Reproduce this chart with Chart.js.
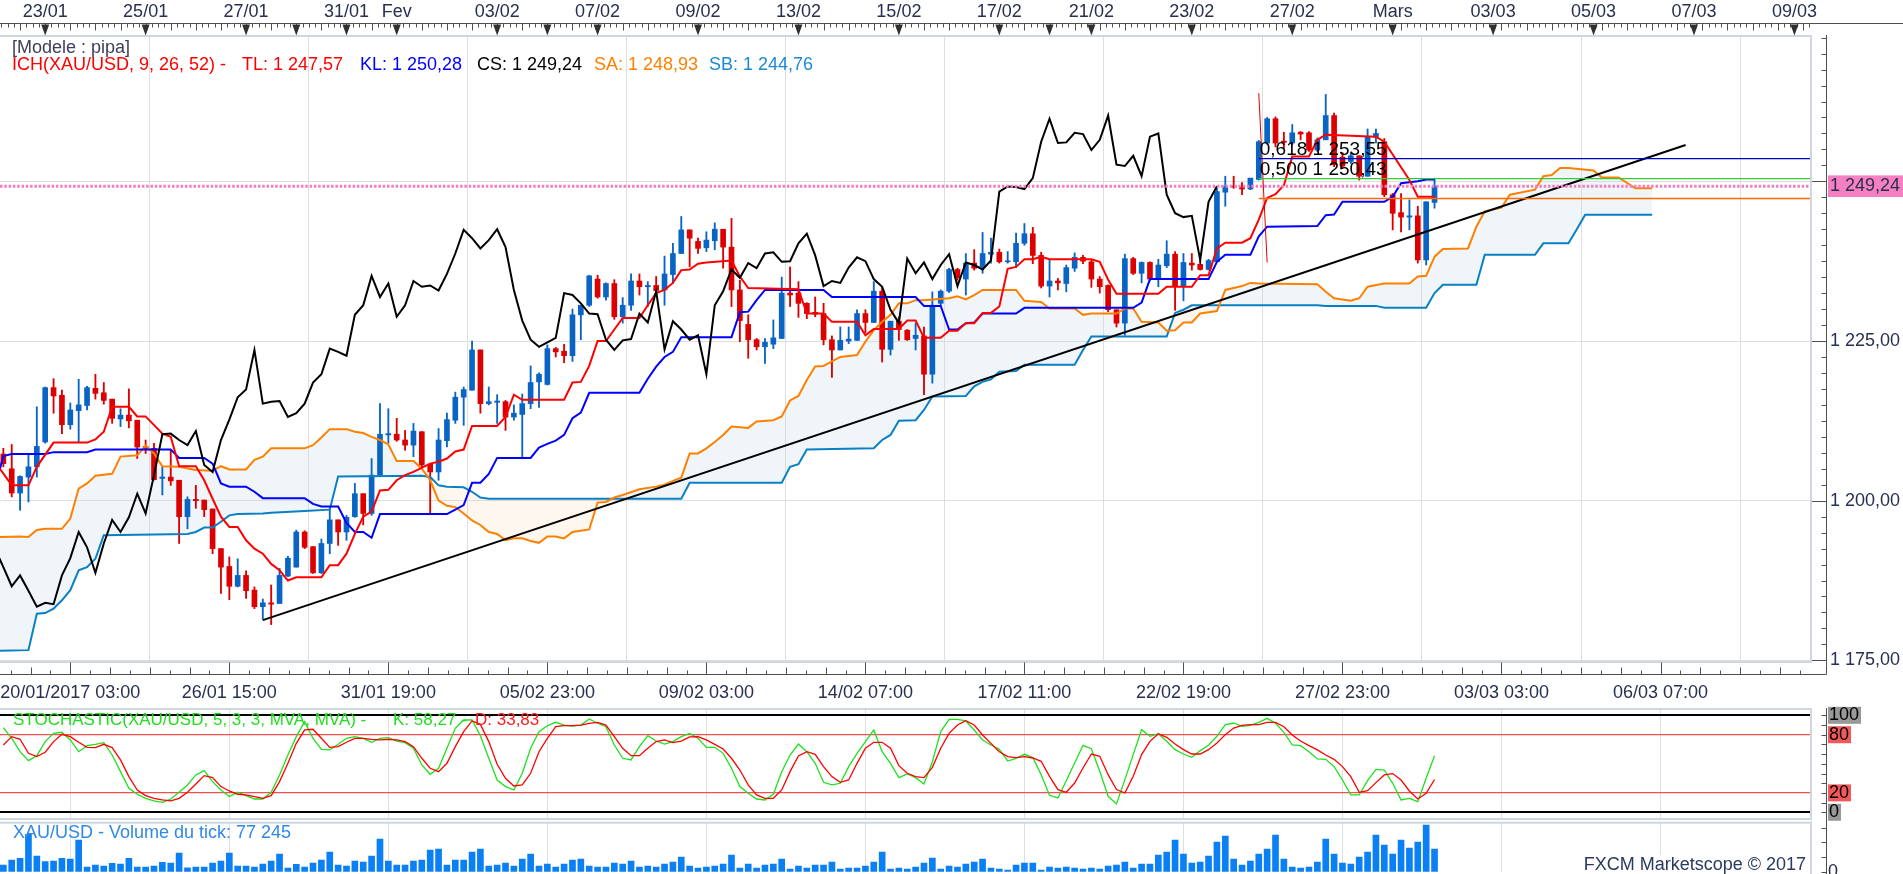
<!DOCTYPE html>
<html lang="fr">
<head>
<meta charset="UTF-8">
<title>XAU/USD - Ichimoku</title>
<script src="https://cdn.jsdelivr.net/npm/chart.js"></script>
<style>
  body { margin: 0; background: #fff; overflow: hidden; font-family: 'Liberation Sans', Arial, sans-serif; }
  #page { position: relative; width: 1903px; height: 874px; }
  .box { position: absolute; left: 0; width: 1903px; }
  .txt { position: absolute; font-size: 17px; line-height: 17px; white-space: pre; }
  .ich { font-size: 18px; }
</style>
</head>
<body>
<div id="page">
  <div class="box" style="top:0;height:705px"><canvas id="main"></canvas></div>
  <div class="box" style="top:705px;height:116px"><canvas id="stoch"></canvas></div>
  <div class="box" style="top:821px;height:53px"><canvas id="vol"></canvas></div>

  <div class="txt ich" style="left:12px;top:39px;color:#3d405a">[Modele : pipa]</div>
  <div class="txt ich" style="left:12px;top:56px;color:#ff0000">ICH(XAU/USD, 9, 26, 52) -</div>
  <div class="txt ich" style="left:242px;top:56px;color:#ff0000">TL: 1 247,57</div>
  <div class="txt ich" style="left:360px;top:56px;color:#0000ff">KL: 1 250,28</div>
  <div class="txt ich" style="left:477px;top:56px;color:#000000">CS: 1 249,24</div>
  <div class="txt ich" style="left:594px;top:56px;color:#ff8000">SA: 1 248,93</div>
  <div class="txt ich" style="left:709px;top:56px;color:#1b8ad0">SB: 1 244,76</div>

  <div class="txt" style="left:13px;top:711px;color:#22dd22">STOCHASTIC(XAU/USD, 5, 3, 3, MVA, MVA) -</div>
  <div class="txt" style="left:393px;top:711px;color:#22dd22">K: 58,27 -</div>
  <div class="txt" style="left:475px;top:711px;color:#ff1a1a">D: 33,83</div>

  <div class="txt" style="left:13px;top:824px;font-size:18px;color:#3089e6">XAU/USD - Volume du tick: 77 245</div>
  <div class="txt" style="right:95px;top:855px;font-size:18px;line-height:18px;color:#283a5e;background:#fff;padding:0 2px">FXCM Marketscope © 2017</div>
</div>

<script>
// ---- axes ----
const X_MIN = -0.4, X_MAX = 216.1;
const gridIdx = [8, 27, 46, 65, 84, 103, 122, 141, 160, 179, 198];
const bottomLabels = ['20/01/2017 03:00', '26/01 15:00', '31/01 19:00', '05/02 23:00', '09/02 03:00',
  '14/02 07:00', '17/02 11:00', '22/02 19:00', '27/02 23:00', '03/03 03:00', '06/03 07:00'];
const topIdx = [5, 17, 29, 41, 47, 59, 71, 83, 95, 107, 119, 130, 142, 154, 166, 178, 190, 202, 214];
const topLabels = ['23/01', '25/01', '27/01', '31/01', 'Fev', '03/02', '07/02', '09/02', '13/02', '15/02',
  '17/02', '21/02', '23/02', '27/02', 'Mars', '03/03', '05/03', '07/03', '09/03'];
const weekMarks = [35, 65, 125];
const priceLabels = [1175, 1200, 1225];
const lastPrice = 1249.24;
const stochLabels = [0, 20, 80, 100];
const volLabels = [0];

// ---- 4h candles, XAU/USD ----
const opens = [1207.3,1205.0,1201.2,1203.7,1205.3,1209.2,1217.7,1216.5,1211.9,1214.1,
  1214.9,1217.6,1216.9,1215.9,1212.8,1213.4,1212.6,1208.5,1208.2,1203.5,
  1203.7,1203.2,1197.5,1200.2,1200.1,1198.7,1192.5,1189.7,1186.6,1188.3,
  1186.0,1183.4,1184.0,1183.9,1188.2,1189.6,1195.1,1192.8,1188.7,1193.3,
  1197.0,1195.1,1197.5,1201.1,1198.0,1204.0,1210.3,1210.4,1209.5,1208.7,
  1210.8,1205.7,1204.5,1209.4,1212.6,1216.2,1217.3,1223.6,1215.2,1215.4,
  1215.5,1213.1,1213.5,1215.2,1218.6,1218.2,1223.8,1223.4,1222.7,1229.1,
  1230.6,1234.7,1231.9,1234.0,1228.8,1230.6,1234.4,1233.5,1233.7,1233.0,
  1235.4,1238.7,1242.4,1240.6,1239.6,1240.7,1242.5,1239.7,1233.0,1227.6,
  1225.2,1224.1,1224.5,1225.4,1232.5,1232.5,1230.9,1229.5,1229.3,1225.2,
  1223.6,1225.0,1225.1,1229.3,1227.9,1232.8,1223.7,1228.1,1226.7,1225.4,
  1225.8,1219.8,1230.9,1232.8,1236.2,1234.7,1237.2,1236.6,1238.6,1238.9,
  1237.4,1237.4,1240.3,1241.8,1238.4,1233.6,1234.4,1234.0,1236.4,1238.1,
  1237.4,1234.7,1233.7,1229.9,1227.8,1237.9,1235.6,1237.3,1234.7,1236.8,
  1238.6,1233.6,1237.2,1237.0,1236.2,1237.4,1248.3,1249.3,1249.1,1248.8,
  1250.3,1256.0,1259.8,1256.3,1256.0,1257.7,1257.6,1254.9,1256.5,1260.3,
  1253.8,1253.1,1254.0,1250.8,1256.9,1256.2,1247.9,1245.1,1244.4,1244.6,
  1237.7,1246.7];
const highs = [1208.2,1208.8,1203.9,1207.1,1214.7,1217.8,1219.1,1217.3,1215.3,1219.0,
  1217.9,1219.8,1218.5,1215.9,1214.4,1217.5,1212.6,1209.5,1209.0,1205.3,
  1207.9,1203.2,1200.6,1202.4,1200.1,1198.7,1192.5,1191.2,1190.9,1189.0,
  1186.5,1184.6,1186.8,1189.4,1191.3,1195.4,1195.3,1192.8,1194.0,1199.0,
  1197.0,1197.7,1202.7,1201.1,1206.6,1215.2,1214.4,1212.9,1211.0,1212.1,
  1210.8,1205.8,1211.3,1213.7,1217.0,1217.8,1225.0,1223.6,1217.8,1216.6,
  1215.7,1215.0,1216.7,1221.1,1220.0,1224.4,1224.0,1224.5,1230.0,1230.6,
  1235.3,1235.3,1234.1,1234.6,1231.8,1235.5,1235.5,1234.3,1235.1,1238.3,
  1240.3,1244.5,1242.4,1241.1,1242.1,1243.5,1242.5,1244.2,1234.5,1229.1,
  1225.4,1225.4,1228.3,1235.0,1236.6,1234.3,1231.0,1231.9,1230.9,1225.8,
  1227.2,1227.2,1229.9,1229.9,1234.3,1233.5,1228.1,1228.8,1226.8,1227.8,
  1227.2,1232.7,1233.0,1236.4,1236.4,1238.7,1239.3,1242.0,1241.1,1239.4,
  1239.0,1241.9,1243.4,1242.8,1238.9,1237.8,1234.8,1236.9,1238.8,1238.4,
  1237.7,1235.1,1233.8,1229.9,1238.6,1238.1,1237.4,1237.4,1237.8,1240.7,
  1239.0,1238.7,1238.7,1237.8,1237.8,1248.9,1250.8,1250.8,1249.8,1250.5,
  1256.4,1260.0,1260.1,1257.7,1258.9,1257.8,1257.8,1256.8,1263.6,1260.7,
  1254.5,1254.5,1254.0,1258.2,1258.2,1256.7,1248.1,1248.1,1247.1,1246.1,
  1246.8,1250.5];
const lows = [1205.3,1200.6,1198.5,1199.8,1203.7,1209.0,1213.7,1210.5,1211.2,1209.2,
  1214.2,1215.9,1215.1,1212.1,1211.6,1211.4,1206.6,1207.4,1203.2,1200.9,
  1202.4,1193.3,1195.6,1198.8,1197.5,1191.7,1185.5,1184.5,1186.5,1184.7,
  1183.1,1181.4,1180.6,1183.9,1188.1,1189.6,1192.5,1188.6,1188.6,1191.7,
  1193.0,1193.8,1197.4,1196.2,1197.7,1203.9,1209.0,1209.3,1207.9,1206.9,
  1205.3,1198.0,1203.2,1208.4,1212.1,1211.8,1217.3,1213.7,1215.0,1212.1,
  1211.0,1212.6,1206.9,1214.4,1214.6,1218.1,1222.5,1221.6,1221.8,1225.2,
  1230.4,1231.7,1231.4,1228.4,1227.8,1229.8,1232.2,1230.4,1232.2,1230.6,
  1234.0,1238.7,1236.6,1238.7,1239.0,1239.3,1236.4,1230.4,1224.9,1222.3,
  1223.6,1221.5,1223.8,1225.4,1230.4,1228.7,1228.5,1228.8,1224.4,1219.3,
  1223.6,1224.6,1225.1,1226.3,1227.9,1221.7,1222.8,1225.1,1225.1,1223.6,
  1216.6,1218.4,1230.6,1232.6,1234.5,1232.2,1236.1,1235.6,1237.2,1237.2,
  1237.2,1236.5,1240.0,1237.1,1233.3,1231.9,1233.0,1232.7,1235.9,1237.1,
  1233.4,1232.5,1229.6,1227.2,1225.9,1235.4,1234.1,1234.5,1233.5,1236.5,
  1229.8,1231.3,1236.1,1236.1,1236.1,1237.4,1246.1,1248.9,1247.9,1248.7,
  1250.2,1255.8,1255.4,1255.2,1255.7,1256.5,1254.7,1254.7,1256.5,1252.3,
  1252.0,1252.8,1250.2,1250.8,1256.0,1247.6,1242.4,1242.1,1242.4,1237.2,
  1236.9,1245.8];
const closes = [1205.8,1201.2,1203.8,1205.3,1208.5,1217.7,1216.4,1211.9,1214.2,1215.0,
  1217.7,1216.8,1215.7,1212.9,1213.4,1212.5,1208.4,1208.0,1203.3,1203.7,
  1203.1,1197.5,1200.2,1200.0,1198.6,1192.5,1189.6,1186.6,1188.3,1185.9,
  1183.4,1184.0,1183.8,1188.3,1191.0,1195.1,1192.7,1188.7,1193.3,1197.0,
  1195.1,1197.4,1201.1,1198.0,1204.0,1210.4,1210.5,1209.5,1208.7,1210.9,
  1205.6,1204.5,1209.5,1212.7,1216.2,1217.4,1223.6,1215.2,1215.5,1215.6,
  1213.1,1213.7,1215.2,1218.5,1219.8,1223.8,1223.3,1222.7,1229.1,1230.6,
  1235.2,1231.9,1234.0,1228.8,1230.6,1234.4,1233.5,1233.7,1232.9,1235.5,
  1238.7,1242.4,1241.1,1239.5,1240.8,1242.5,1239.7,1233.0,1228.2,1225.2,
  1224.1,1224.8,1225.5,1232.5,1232.2,1230.9,1229.3,1229.2,1225.2,1223.6,
  1225.1,1225.3,1229.3,1227.9,1232.8,1223.7,1228.1,1226.8,1225.2,1225.9,
  1219.8,1230.6,1232.8,1236.2,1234.9,1237.2,1236.4,1238.7,1238.9,1237.4,
  1237.5,1240.3,1241.8,1238.4,1233.6,1234.4,1234.1,1236.5,1238.1,1237.5,
  1234.7,1233.5,1229.9,1227.8,1237.9,1235.6,1237.3,1234.7,1236.9,1238.6,
  1233.6,1237.3,1236.9,1236.2,1237.6,1248.4,1249.2,1249.1,1248.8,1250.5,
  1256.2,1259.8,1256.0,1256.1,1257.6,1257.4,1254.9,1256.5,1260.3,1252.6,
  1252.4,1254.0,1250.8,1257.0,1257.5,1247.9,1245.0,1244.4,1244.6,1237.7,
  1246.8,1249.24];

// ---- Ichimoku (9, 26, 52): vertices [candle index, price] ----
const tenkan = [[-0.4,1205.0],[1,1202.4],[3,1202.4],[4,1205.3],[6,1209.1],[10,1209.1],[11,1209.6],[12,1210.8],[13,1214.7],[15,1214.7],
  [16,1213.2],[17,1213.2],[19,1210.5],[20,1210.0],[21,1205.4],[23,1205.4],[24,1203.2],[25,1200.3],[26,1197.5],[27,1195.9],
  [28,1195.9],[29,1193.8],[30,1192.5],[31,1191.7],[32,1190.1],[33,1189.1],[34,1187.5],[35,1188.0],[38,1188.0],[39,1189.9],
  [40,1189.9],[41,1191.7],[42,1194.8],[43,1197.5],[44,1198.3],[45,1201.6],[46,1201.7],[47,1203.2],[48,1204.0],[49,1204.5],
  [51,1205.8],[52,1206.1],[53,1206.6],[54,1207.7],[55,1208.0],[56,1211.7],[59,1211.7],[60,1213.1],[61,1216.6],[62,1215.8],
  [67,1215.8],[68,1218.5],[69,1218.6],[70,1221.1],[71,1225.0],[72,1225.0],[73,1226.8],[74,1228.6],[76,1228.6],[77,1230.6],
  [78,1232.5],[79,1233.0],[80,1234.1],[81,1236.1],[82,1236.2],[83,1237.1],[84,1237.3],[87,1237.6],[88,1235.1],[89,1233.3],
  [95,1233.1],[96,1229.3],[98,1229.3],[99,1228.0],[102,1228.0],[103,1225.9],[104,1226.9],[107,1226.9],[108,1228.2],[109,1228.2],
  [110,1225.5],[112,1225.5],[113,1226.6],[114,1226.6],[115,1227.8],[116,1227.8],[117,1229.4],[118,1229.4],[119,1230.4],[120,1236.3],
  [121,1236.6],[122,1237.8],[123,1237.8],[124,1238.2],[125,1237.8],[130,1237.8],[131,1237.4],[132,1234.6],[133,1232.4],[138,1232.4],
  [139,1233.5],[142,1233.5],[143,1235.3],[144,1235.3],[145,1239.5],[146,1240.4],[148,1240.4],[149,1241.1],[150,1244.0],[151,1247.4],
  [152,1248.0],[153,1249.4],[154,1253.9],[156,1253.9],[157,1256.5],[158,1257.3],[164,1257.0],[165,1256.2],[166,1254.2],[167,1252.2],
  [168,1250.2],[169,1247.6],[171,1247.57]];
const kijun = [[-0.4,1205.0],[0,1207.0],[1,1207.3],[5,1207.3],[6,1207.6],[10,1207.6],[11,1208.0],[20,1208.0],[21,1206.7],[24,1206.7],
  [25,1205.8],[26,1202.7],[27,1202.2],[29,1202.2],[30,1201.4],[31,1200.4],[36,1200.4],[37,1199.5],[38,1199.1],[40,1199.1],
  [41,1196.5],[42,1195.1],[43,1195.1],[44,1194.2],[45,1197.9],[53,1197.9],[54,1198.6],[55,1199.3],[56,1202.8],[57,1202.8],
  [58,1204.2],[59,1206.7],[63,1206.7],[64,1208.3],[65,1208.9],[66,1209.4],[67,1210.3],[68,1212.9],[69,1213.8],[70,1216.9],
  [76,1216.9],[77,1219.1],[78,1221.0],[79,1222.5],[80,1223.3],[81,1225.6],[87,1225.6],[88,1229.5],[89,1229.6],[90,1231.4],
  [91,1233.0],[98,1233.0],[99,1231.9],[109,1231.9],[110,1230.5],[112,1230.5],[113,1226.8],[114,1226.8],[115,1227.8],[116,1227.9],
  [117,1229.3],[121,1229.3],[122,1230.2],[135,1230.2],[136,1231.0],[137,1234.7],[144,1234.7],[145,1237.4],[146,1238.5],[149,1238.5],
  [150,1241.4],[151,1242.9],[157,1243.0],[158,1244.7],[159,1244.8],[160,1246.8],[165,1246.8],[166,1247.6],[167,1249.7],[169,1250.0],
  [170,1250.28],[171,1250.28]];
const senkouA = [[-0.4,1194.3],[2,1194.4],[3,1194.3],[4,1195.4],[5,1195.6],[7,1195.6],[8,1197.2],[9,1201.9],[10,1202.7],[11,1203.9],
  [13,1204.2],[14,1206.9],[16,1207.1],[17,1208.6],[18,1207.4],[19,1205.4],[21,1205.3],[23,1204.8],[25,1204.7],[26,1205.4],
  [27,1204.9],[29,1204.9],[30,1206.4],[31,1206.9],[32,1208.2],[36,1208.2],[37,1208.7],[38,1209.9],[39,1211.2],[41,1211.2],
  [42,1210.8],[43,1210.6],[44,1210.0],[45,1209.5],[46,1208.8],[47,1206.2],[49,1206.2],[50,1205.0],[51,1203.2],[52,1200.0],
  [53,1199.2],[54,1199.0],[55,1198.0],[56,1196.9],[57,1196.2],[58,1195.1],[59,1194.8],[60,1193.8],[61,1194.1],[62,1194.1],
  [63,1193.7],[64,1193.4],[65,1194.4],[66,1194.4],[67,1194.1],[68,1195.1],[69,1195.3],[70,1195.5],[71,1199.7],[72,1199.8],
  [73,1200.5],[74,1200.9],[76,1201.8],[78,1202.2],[79,1202.5],[80,1203.1],[81,1203.6],[82,1207.4],[83,1207.4],[84,1208.2],
  [85,1209.2],[86,1210.3],[87,1211.6],[89,1211.4],[90,1212.4],[92,1212.6],[93,1213.2],[94,1215.7],[95,1216.4],[96,1218.9],
  [97,1221.0],[98,1221.1],[99,1221.8],[100,1222.5],[102,1222.8],[103,1224.9],[104,1226.7],[105,1228.0],[106,1229.1],[107,1230.9],
  [108,1230.9],[109,1231.4],[110,1231.4],[111,1231.5],[113,1231.7],[114,1232.0],[115,1231.5],[116,1232.2],[117,1233.0],[121,1233.0],
  [122,1231.3],[124,1231.1],[125,1230.1],[128,1230.1],[129,1229.1],[130,1229.3],[133,1229.3],[134,1230.1],[135,1230.1],[136,1228.0],
  [138,1227.9],[139,1226.6],[140,1226.7],[141,1227.9],[142,1227.9],[143,1229.3],[145,1229.7],[146,1233.0],[148,1233.6],[149,1234.1],
  [150,1234.0],[157,1233.9],[158,1232.7],[159,1231.7],[161,1231.3],[162,1231.7],[163,1233.5],[165,1234.0],[168,1234.0],[169,1235.1],
  [170,1235.2],[171,1238.2],[172,1239.4],[175,1239.5],[176,1242.9],[177,1245.3],[179,1245.9],[180,1247.9],[183,1248.7],[184,1250.8],
  [185,1251.0],[186,1252.1],[187,1252.1],[190,1251.7],[191,1250.6],[193,1250.6],[195,1248.9],[197,1248.93]];
const senkouB = [[-0.4,1176.5],[3,1176.6],[4,1182.3],[5,1182.4],[6,1183.1],[7,1184.4],[8,1186.0],[9,1189.1],[10,1189.6],[11,1190.9],
  [12,1194.6],[22,1194.8],[23,1195.1],[24,1195.8],[25,1195.8],[26,1196.7],[27,1197.7],[28,1197.9],[31,1198.0],[32,1198.1],
  [36,1198.4],[39,1198.6],[40,1203.8],[50,1203.9],[51,1203.7],[52,1202.4],[53,1202.2],[55,1202.1],[56,1201.4],[57,1200.5],
  [58,1200.3],[81,1200.3],[82,1202.8],[93,1202.8],[94,1205.3],[95,1205.7],[96,1208.0],[104,1208.2],[105,1209.5],[106,1210.3],
  [107,1212.5],[109,1212.6],[110,1214.2],[111,1216.3],[115,1216.4],[116,1217.9],[117,1218.6],[118,1219.0],[119,1220.2],[121,1220.3],
  [122,1221.3],[128,1221.3],[129,1223.6],[130,1225.7],[139,1225.7],[140,1229.4],[141,1229.9],[142,1230.6],[157,1230.6],[158,1230.5],
  [164,1230.5],[165,1230.2],[170,1230.2],[171,1232.5],[172,1233.8],[176,1233.8],[177,1238.5],[183,1238.5],[184,1240.3],[187,1240.3],
  [188,1242.5],[189,1244.76],[197,1244.76]];
const chikouShift = 26;

// ---- drawings ----
const trendLine = [[31, 1181.3], [201, 1255.7]];
const fibStart = 150;
const fibLevels = [0.618, 0.5, 0.382];
const fibPrices = [1253.55, 1250.43, 1247.31];
const fibDiag = [[150, 1263.8], [151, 1237.3]];

// ---- Stochastic (5, 3, 3) ----
const stochK = [87.3,76.3,62.5,53.3,58.4,72.9,81.4,82.5,74.6,62.5,
  68.7,70.1,71.8,59.1,41.9,24.7,18.6,14.4,11.7,10.3,
  13.7,20.6,28.2,38.5,43.0,31.6,23.0,16.2,20.6,17.2,
  13.7,13.7,20.6,38.5,59.1,78.0,93.5,76.3,64.9,64.3,
  70.1,76.3,78.0,76.3,72.2,76.3,77.0,73.5,71.8,66.0,
  48.8,39.2,45.4,66.0,86.6,95.2,95.2,79.0,55.7,33.3,
  26.5,23.0,40.2,66.0,83.2,89.3,92.8,90.0,89.0,90.0,
  96.2,91.8,88.3,69.4,55.7,54.0,67.7,79.0,73.5,70.4,
  72.9,78.0,81.4,76.3,67.0,67.0,60.8,45.4,26.5,19.6,
  13.7,12.7,18.6,41.9,59.1,70.4,62.5,50.5,30.9,28.2,
  29.9,47.1,60.8,72.9,84.9,62.5,50.5,35.7,39.5,35.7,
  29.2,52.2,83.2,95.9,95.9,94.2,84.9,74.6,69.4,64.9,
  52.9,55.7,59.8,56.4,38.8,17.5,14.8,32.6,50.9,69.1,
  65.6,42.3,16.5,8.6,33.7,59.5,85.2,78.4,81.1,73.2,
  64.6,60.1,56.7,63.6,69.1,78.4,90.4,92.1,88.7,89.7,
  92.8,96.9,91.8,82.5,69.4,68.7,62.5,55.0,54.6,47.1,
  33.3,17.9,17.9,32.6,44.3,43.6,29.9,12.7,14.4,11.0,
  35.1,58.27];
const stochD = [69.4,78.0,75.3,60.8,57.4,61.9,72.9,80.4,78.0,72.2,
  67.0,66.7,70.1,66.7,54.0,36.8,23.0,17.2,14.4,12.7,
  11.7,14.4,20.6,29.2,37.8,35.7,26.5,22.0,18.6,17.9,
  16.2,14.4,17.2,31.6,50.5,71.1,84.9,85.6,76.3,67.0,
  67.7,72.2,76.3,76.3,75.3,74.6,75.3,74.6,72.9,67.7,
  55.7,45.4,41.9,50.5,67.7,83.2,94.2,90.7,72.9,49.5,
  35.1,27.1,28.2,40.2,62.5,76.3,88.3,89.3,89.3,90.0,
  91.8,92.8,90.0,78.0,66.0,58.4,58.4,66.0,72.9,74.6,
  71.8,73.5,77.7,78.0,74.6,70.1,65.3,55.7,43.6,28.2,
  17.9,14.4,14.4,23.0,41.9,58.1,62.5,59.8,47.1,36.8,
  30.9,33.3,50.5,66.0,72.2,72.2,66.0,48.1,40.2,36.8,
  35.7,46.4,66.0,81.4,90.0,94.5,90.0,79.7,71.1,62.5,
  57.4,56.4,57.4,56.0,52.6,37.1,23.4,20.6,30.2,45.7,
  60.1,57.7,38.8,23.4,19.9,37.1,59.5,73.2,81.1,77.3,
  70.4,64.6,60.1,60.1,64.6,71.5,80.1,86.9,89.7,90.4,
  90.4,92.8,92.8,88.3,79.7,73.5,68.7,64.3,59.1,54.6,
  47.1,36.8,20.6,22.3,30.6,38.5,39.9,33.3,22.0,13.7,
  19.6,33.83];

// ---- tick volume ----
const volumes = [22700,39800,45400,127200,53400,34100,36400,45400,43200,107900,
  15900,22700,19300,28400,26100,45400,15900,15900,19300,31800,
  29500,63600,13600,15900,15900,29500,36400,63600,19300,19300,
  15900,26100,36400,60200,12500,25000,15900,29500,39800,67000,
  22700,19300,36400,32900,53400,111300,36400,22700,22700,36400,
  39800,73800,77200,22700,39800,39800,67000,77200,19300,22700,
  29500,19300,43200,60200,19300,26100,15900,26100,39800,43200,
  19300,15900,15900,29500,26100,36400,15900,19300,15900,26100,
  32900,50000,19300,12500,15900,19300,26100,56800,12500,26100,
  12500,22700,26100,43200,9100,19300,12500,22700,22700,32900,
  9100,12500,12500,19300,32900,67000,9100,12500,9100,15900,
  29500,46600,9100,19300,15900,26100,32900,43200,12500,9100,
  5700,22700,29500,29500,5700,15900,12500,15900,12500,9100,
  12500,9100,19300,22700,32900,12500,26100,26100,56800,67000,
  107900,60200,29500,32900,53400,101100,121600,43200,22700,36400,
  60200,77200,125000,43200,15900,12500,15900,32900,111300,60200,
  29500,26100,50000,67000,125000,90900,60200,107900,80700,101100,
  159000,77245];

// ---- helpers ----
const FONT = "'Liberation Sans', Arial, sans-serif";
const UP = '#0a64c4', DOWN = '#dc0000';
const CLEAR = 'rgba(0,0,0,0)';
Chart.defaults.font.family = FONT;
Chart.defaults.font.size = 18;
Chart.defaults.color = '#283050';

function fmt(v) {
  const [a, b] = v.toFixed(2).split('.');
  return a.replace(/\B(?=(\d{3})+(?!\d))/g, ' ') + ',' + b;
}
const pts = arr => arr.map(([x, y]) => ({ x, y }));
const series = arr => arr.map((y, i) => ({ x: i, y }));
const candleColor = c => closes[c.dataIndex] >= opens[c.dataIndex] ? UP : DOWN;
const hline = (ctx, x1, x2, y) => { ctx.moveTo(x1, y); ctx.lineTo(x2, y); };
const vline = (ctx, x, y1, y2) => { ctx.moveTo(x, y1); ctx.lineTo(x, y2); };

function timeAxis(extra) {
  return Object.assign({
    type: 'linear', min: X_MIN, max: X_MAX, offset: false,
    afterBuildTicks: s => { s.ticks = gridIdx.map(v => ({ value: v })); },
    grid: { color: '#dedede', lineWidth: 1, drawTicks: false },
    border: { display: false },
    ticks: { display: false }
  }, extra);
}
function line(label, data, color, width, order, more) {
  return Object.assign({ type: 'line', label, data, borderColor: color, borderWidth: width,
    pointRadius: 0, tension: 0, fill: false, order }, more);
}
const baseOpts = {
  responsive: true, maintainAspectRatio: false, animation: false, events: [],
  plugins: { legend: { display: false }, tooltip: { enabled: false } }
};

// ---- main chart ----
const mainSets = [
  line('1 249,24', [{ x: X_MIN, y: lastPrice }, { x: X_MAX, y: lastPrice }], '#f47cc0', 3, 0, { borderDash: [2.5, 1.8] }),
  line('Fibo 0,618', [{ x: fibStart, y: fibPrices[0] }, { x: X_MAX, y: fibPrices[0] }], '#0000cc', 1.3, 1),
  line('Fibo 0,500', [{ x: fibStart, y: fibPrices[1] }, { x: X_MAX, y: fibPrices[1] }], '#33cc33', 1.3, 1),
  line('Fibo 0,382', [{ x: fibStart, y: fibPrices[2] }, { x: X_MAX, y: fibPrices[2] }], '#ff6a00', 1.3, 1),
  line('Fibo', pts(fibDiag), '#e00000', 1, 1),
  line('Tendance', pts(trendLine), '#000000', 2, 2),
  line('CS', closes.map((c, i) => ({ x: i - chikouShift, y: c })), '#000000', 2, 3),
  line('TL', pts(tenkan), '#ff0000', 2, 4),
  line('KL', pts(kijun), '#0000ff', 2, 5),
  line('SA', pts(senkouA), '#ff8000', 2, 6),
  line('SB', pts(senkouB), '#0a80c4', 2, 7)
];
const sbIndex = mainSets.length - 1;
mainSets[sbIndex - 1].fill = { target: sbIndex, above: 'rgba(190,215,232,0.24)', below: 'rgba(245,190,140,0.13)' };
mainSets.push({
  type: 'bar', label: 'Corps', data: opens.map((o, i) => ({ x: i, y: [o, closes[i]] })),
  backgroundColor: candleColor, barThickness: 5, grouped: false, minBarLength: 1, order: 10
});
mainSets.push({
  type: 'bar', label: 'Meches', data: lows.map((l, i) => ({ x: i, y: [l, highs[i]] })),
  backgroundColor: candleColor, barThickness: 1.2, grouped: false, minBarLength: 1, order: 11
});

const mainFrame = {
  id: 'mainFrame',
  afterDraw(chart) {
    const { ctx, chartArea: a, scales: { x, y } } = chart;
    const ax = a.right + 14.5, baseY = a.bottom + 13.5, topY = 23.5;
    ctx.save();
    ctx.fillStyle = '#cfd6df';
    ctx.fillRect(0, a.top - 2, a.right, 2);
    ctx.fillRect(0, a.bottom, a.right, 2);
    ctx.fillRect(a.right - 2, a.top, 2, a.bottom - a.top);

    ctx.strokeStyle = '#505050';
    ctx.lineWidth = 1;
    ctx.beginPath();
    vline(ctx, ax, a.top - 2, baseY);
    y.ticks.forEach(t => {
      if (t.value === lastPrice) return;
      const py = Math.round(y.getPixelForValue(t.value)) + 0.5;
      hline(ctx, t.value % 25 === 0 ? a.right : ax - 5, ax, py);
    });
    hline(ctx, 0, ax, baseY);
    for (let k = -4; ; k++) {
      const v = gridIdx[0] + k * 19 / 8;
      if (v > X_MAX) break;
      if (v < X_MIN) continue;
      const px = Math.round(x.getPixelForValue(v)) + 0.5;
      vline(ctx, px, baseY - (k % 8 === 0 ? 12 : (k % 2 === 0 ? 7 : 4)), baseY);
    }
    hline(ctx, 0, chart.width, topY);
    for (let k = -8; ; k++) {
      const v = topIdx[0] + k * 0.75;
      if (v > X_MAX) break;
      if (v < X_MIN) continue;
      const px = Math.round(x.getPixelForValue(v)) + 0.5;
      vline(ctx, px, topY, topY + (k % 4 === 0 ? 7 : 4));
    }
    ctx.stroke();

    ctx.fillStyle = '#303030';
    topIdx.concat(weekMarks).forEach(v => {
      const px = x.getPixelForValue(v);
      ctx.beginPath();
      ctx.moveTo(px - 4, topY + 1);
      ctx.lineTo(px + 4, topY + 1);
      ctx.lineTo(px, topY + 12);
      ctx.closePath();
      ctx.fill();
    });

    // Fibonacci labels
    ctx.font = '19px ' + FONT;
    ctx.fillStyle = '#000';
    ctx.textAlign = 'left';
    ctx.textBaseline = 'alphabetic';
    fibLevels.slice(0, 2).forEach((lv, i) => {
      const txt = lv.toFixed(3).replace('.', ',') + ' ' + fmt(fibPrices[i]);
      ctx.fillText(txt, x.getPixelForValue(fibStart) + 1, y.getPixelForValue(fibPrices[i]) - 4);
    });
    ctx.restore();
  }
};

new Chart(document.getElementById('main'), {
  type: 'line',
  data: { datasets: mainSets },
  options: Object.assign({}, baseOpts, {
    layout: { padding: 0 },
    plugins: Object.assign({}, baseOpts.plugins, { filler: { drawTime: 'beforeDatasetsDraw' } }),
    scales: {
      x: timeAxis({
        position: 'bottom',
        afterFit: s => { s.height = 44; },
        ticks: { display: true, autoSkip: false, maxRotation: 0, minRotation: 0, padding: 0,
          font: { size: 18, lineHeight: '65px' },
          callback: (v, i) => bottomLabels[i] }
      }),
      xt: {
        type: 'linear', position: 'top', min: X_MIN, max: X_MAX, offset: false,
        afterBuildTicks: s => { s.ticks = topIdx.map(v => ({ value: v })); },
        afterFit: s => { s.height = 37; },
        grid: { drawOnChartArea: false, drawTicks: false },
        border: { display: false },
        ticks: { autoSkip: false, maxRotation: 0, minRotation: 0, padding: 0,
          font: { size: 18, lineHeight: '50px' },
          callback: (v, i) => topLabels[i] }
      },
      y: {
        type: 'linear', position: 'right', min: 1174.9, max: 1272.6,
        afterBuildTicks: s => {
          const t = [];
          for (let v = 1175; v <= 1272.5; v += 2.5) t.push({ value: v });
          t.push({ value: lastPrice });
          t.sort((p, q) => p.value - q.value);
          s.ticks = t;
        },
        afterFit: s => { s.width = 91; },
        grid: { color: c => (c.tick && c.tick.value % 25 === 0) ? '#dedede' : CLEAR,
          drawTicks: true, tickLength: 18, tickColor: CLEAR },
        border: { display: false },
        ticks: {
          autoSkip: false, padding: 0, color: '#283050',
          callback: v => (priceLabels.includes(v) || v === lastPrice) ? fmt(v) : '',
          showLabelBackdrop: true,
          backdropColor: c => (c.tick && c.tick.value === lastPrice) ? '#f680c2' : CLEAR,
          backdropPadding: { left: 2, right: 8, top: 0, bottom: 0 }
        }
      }
    }
  }),
  plugins: [mainFrame]
});

// ---- stochastic ----
const stochFrame = {
  id: 'stochFrame',
  afterDraw(chart) {
    const { ctx, chartArea: a, scales: { y } } = chart;
    const ax = a.right + 14.5;
    ctx.save();
    ctx.fillStyle = '#cfd6df';
    ctx.fillRect(0, 3, a.right, 2);
    ctx.fillRect(0, 113, a.right, 2);
    ctx.fillRect(a.right - 2, 3, 2, 112);
    ctx.strokeStyle = '#505050';
    ctx.lineWidth = 1;
    ctx.beginPath();
    vline(ctx, ax, 3, chart.height);
    y.ticks.forEach(t => {
      const py = Math.round(y.getPixelForValue(t.value)) + 0.5;
      hline(ctx, ax - 5, ax, py);
    });
    ctx.stroke();
    ctx.restore();
  }
};
const levelColor = v => (v === 0 || v === 100) ? '#000000' : (v === 20 || v === 80) ? '#f25050' : CLEAR;
new Chart(document.getElementById('stoch'), {
  type: 'line',
  data: {
    datasets: [
      line('D', series(stochD), '#ff0000', 1.3, 0),
      line('K', series(stochK), '#1fe01f', 1.3, 1)
    ]
  },
  options: Object.assign({}, baseOpts, {
    layout: { padding: { top: 5, left: 0, right: 0, bottom: 0 } },
    scales: {
      x: timeAxis({ afterFit: s => { s.height = 3; } }),
      y: {
        type: 'linear', position: 'right', min: -5.9, max: 105.5,
        afterBuildTicks: s => { s.ticks = Array.from({ length: 11 }, (_, k) => ({ value: k * 10 })); },
        afterFit: s => { s.width = 91; },
        grid: {
          color: c => levelColor(c.tick ? c.tick.value : -1),
          lineWidth: c => (c.tick && (c.tick.value === 0 || c.tick.value === 100)) ? 2 : 1.3,
          drawTicks: true, tickLength: 17, tickColor: CLEAR
        },
        border: { display: false },
        ticks: {
          autoSkip: false, padding: 0, color: '#000', font: { size: 18, lineHeight: '5px' },
          callback: v => stochLabels.includes(v) ? String(v) : '',
          showLabelBackdrop: true,
          backdropColor: c => {
            const v = c.tick ? c.tick.value : -1;
            return (v === 0 || v === 100) ? '#999999' : (v === 20 || v === 80) ? '#f25a5a' : CLEAR;
          },
          backdropPadding: { left: 1, right: 2, top: 6, bottom: 6 }
        }
      }
    }
  }),
  plugins: [stochFrame]
});

// ---- volume ----
const volFrame = {
  id: 'volFrame',
  afterDraw(chart) {
    const { ctx, chartArea: a, scales: { y } } = chart;
    const ax = a.right + 14.5;
    ctx.save();
    ctx.fillStyle = '#cfd6df';
    ctx.fillRect(0, 0.7, a.right, 2);
    ctx.fillRect(a.right - 2, 0.7, 2, chart.height);
    ctx.strokeStyle = '#505050';
    ctx.lineWidth = 1;
    ctx.beginPath();
    vline(ctx, ax, 0, chart.height);
    y.ticks.forEach(t => {
      const py = Math.round(y.getPixelForValue(t.value)) + 0.5;
      hline(ctx, ax - 5, ax, py);
    });
    ctx.stroke();
    ctx.restore();
  }
};
new Chart(document.getElementById('vol'), {
  type: 'bar',
  data: {
    datasets: [{ label: 'Volume du tick', data: series(volumes), backgroundColor: '#0b80f4',
      barThickness: 6, grouped: false, borderWidth: 0 }]
  },
  options: Object.assign({}, baseOpts, {
    layout: { padding: { top: 1.7, left: 0, right: 0, bottom: 0 } },
    scales: {
      x: timeAxis({ afterFit: s => { s.height = 2.3; }, grid: { color: '#dedede', lineWidth: 1, drawTicks: false, offset: false } }),
      y: {
        type: 'linear', position: 'right', min: 0, max: 167000,
        afterBuildTicks: s => { s.ticks = [0, 50000, 100000, 150000].map(v => ({ value: v })); },
        afterFit: s => { s.width = 91; },
        grid: { display: false, drawTicks: true, tickLength: 16 },
        border: { display: false },
        ticks: { autoSkip: false, padding: 0, color: '#283050', font: { size: 18, lineHeight: '2px' },
          callback: v => volLabels.includes(v) ? String(v) : '' }
      }
    }
  }),
  plugins: [volFrame]
});
</script>
</body>
</html>
